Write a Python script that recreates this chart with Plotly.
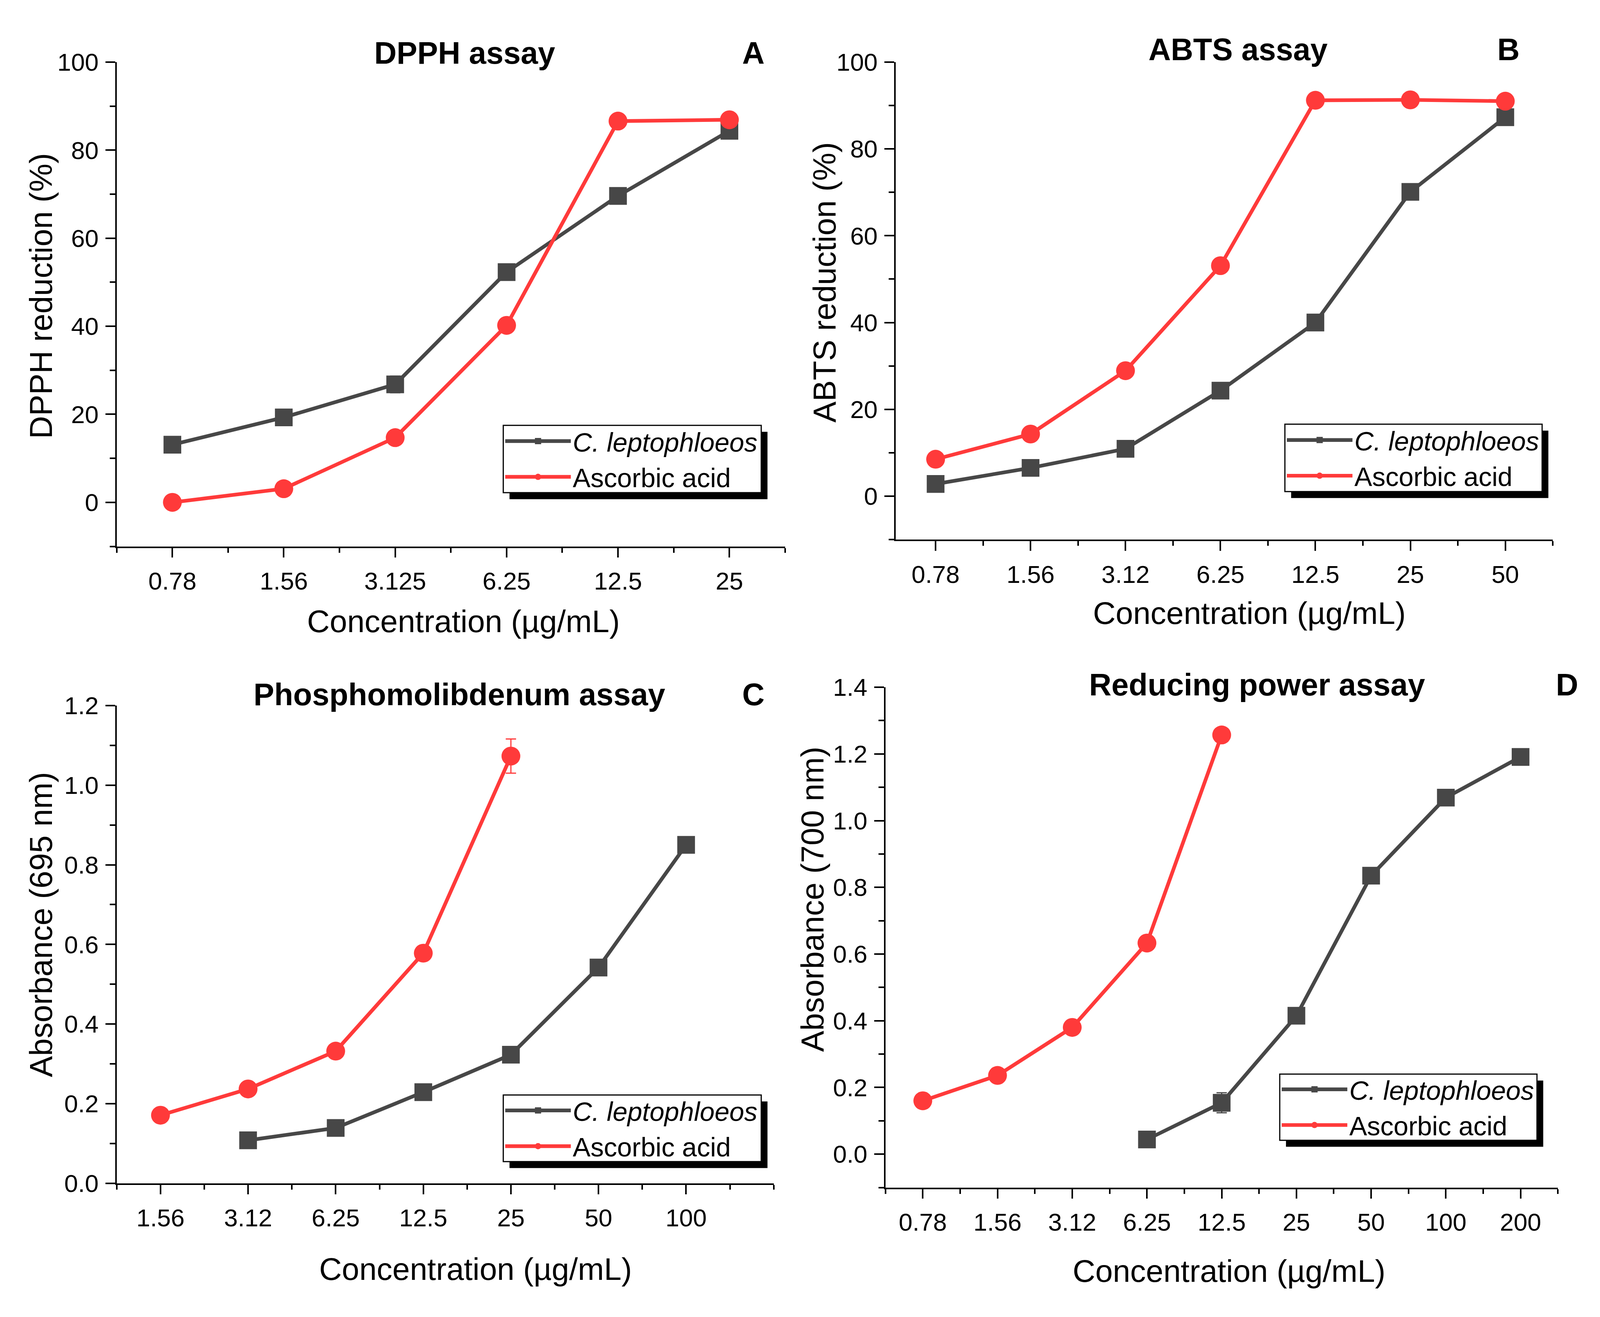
import plotly.graph_objects as go

# reference frame (design) size; the figure itself fills the browser window
W, H = 4337, 3371
K = 0.945  # css-pixel scale of the page relative to the design frame
FONT = "Liberation Sans, Arial, sans-serif"
GRAY = "#474747"
RED = "#ff3a3a"

# ---------------- data ----------------
dpph_conc = ["0.78", "1.56", "3.125", "6.25", "12.5", "25"]
dpph_cl = [13.1, 19.3, 26.8, 52.3, 69.6, 84.4]
dpph_cl_err = [0, 0, 1.9, 0, 0, 0]
dpph_aa = [0.0, 3.1, 14.7, 40.2, 86.6, 86.9]

abts_conc = ["0.78", "1.56", "3.12", "6.25", "12.5", "25", "50"]
abts_cl = [2.8, 6.5, 10.9, 24.3, 40.0, 70.1, 87.3]
abts_aa = [8.5, 14.3, 28.9, 53.1, 91.2, 91.3, 91.0]

phos_conc = ["1.56", "3.12", "6.25", "12.5", "25", "50", "100"]
phos_cl = [None, 0.108, 0.139, 0.229, 0.323, 0.542, 0.850]
phos_aa = [0.171, 0.237, 0.332, 0.578, 1.073, None, None]
phos_aa_err = [0, 0, 0, 0, 0.043, 0, 0]

redp_conc = ["0.78", "1.56", "3.12", "6.25", "12.5", "25", "50", "100", "200"]
redp_cl = [None, None, None, 0.044, 0.154, 0.415, 0.835, 1.069, 1.191]
redp_cl_err = [0, 0, 0, 0, 0.03, 0, 0, 0, 0]
redp_aa = [0.160, 0.236, 0.380, 0.633, 1.257, None, None, None, None]

titles = ["DPPH assay", "ABTS assay", "Phosphomolibdenum assay", "Reducing power assay"]
letters = ["A", "B", "C", "D"]
ytitles = ["DPPH reduction (%)", "ABTS reduction (%)", "Absorbance (695 nm)", "Absorbance (700 nm)"]
xtitle = "Concentration (µg/mL)"
series_names = ["<i>C. leptophloeos</i>", "Ascorbic acid"]


def px(x):
    return x / W


def py(y):
    return 1 - y / H


def s(v):
    return v * K


panels = [
    dict(box=(309, 2128, 119, 1391), xr=[-0.5, 5.5], yr=[-10, 100], ydt=20, ymin=10, fmt="d",
         conc=dpph_conc, cl=dpph_cl, cl_err=dpph_cl_err, aa=dpph_aa, aa_err=None,
         title=(1256, 95), letter=(2041, 95), ytit=(102, 733), xtit=(1253, 1588),
         leg=(1361, 1073, 2063, 1250)),
    dict(box=(2429, 4217, 119, 1373), xr=[-0.42, 6.5], yr=[-10, 100], ydt=20, ymin=10, fmt="d",
         conc=abts_conc, cl=abts_cl, cl_err=None, aa=abts_aa, aa_err=None,
         title=(3361, 86), letter=(4096, 86), ytit=(2235, 698), xtit=(3391, 1566),
         leg=(3488, 1070, 4188, 1247)),
    dict(box=(309, 2097, 1809, 3064), xr=[-0.5, 7.0], yr=[0, 1.2], ydt=0.2, ymin=0.1, fmt=".1f",
         conc=phos_conc, cl=phos_cl, cl_err=None, aa=phos_aa, aa_err=phos_aa_err,
         title=(1242, 1780), letter=(2041, 1780), ytit=(102, 2384), xtit=(1286, 3289),
         leg=(1361, 2832, 2063, 3007)),
    dict(box=(2401, 4231, 1761, 3075), xr=[-0.5, 8.5], yr=[-0.1, 1.4], ydt=0.2, ymin=0.1, fmt=".1f",
         conc=redp_conc, cl=redp_cl, cl_err=redp_cl_err, aa=redp_aa, aa_err=None,
         title=(3412, 1754), letter=(4256, 1754), ytit=(2202, 2318), xtit=(3336, 3294),
         leg=(3474, 2777, 4174, 2951)),
]

fig = go.Figure()
annotations = []
shapes = []
SHADOW = 17

for i, p in enumerate(panels):
    n = i + 1
    sfx = "" if n == 1 else str(n)
    xa, ya = "x" + sfx, "y" + sfx
    leg = "legend" + sfx
    xs = list(range(len(p["conc"])))

    err_cl = None
    if p["cl_err"] is not None:
        err_cl = dict(type="data", array=p["cl_err"], visible=True, color=GRAY, thickness=3, width=s(14))
    err_aa = None
    if p["aa_err"] is not None:
        err_aa = dict(type="data", array=p["aa_err"], visible=True, color=RED, thickness=3, width=s(14))

    fig.add_trace(go.Scatter(
        x=xs, y=p["cl"], xaxis=xa, yaxis=ya, name=series_names[0], legend=leg,
        mode="lines+markers", connectgaps=False,
        line=dict(color=GRAY, width=s(10)),
        marker=dict(symbol="square", size=s(48), color=GRAY),
        error_y=err_cl,
    ))
    fig.add_trace(go.Scatter(
        x=xs, y=p["aa"], xaxis=xa, yaxis=ya, name=series_names[1], legend=leg,
        mode="lines+markers", connectgaps=False,
        line=dict(color=RED, width=s(10)),
        marker=dict(symbol="circle", size=s(51), color=RED),
        error_y=err_aa,
    ))

    x0, x1, yt, yb = p["box"]
    axis_common = dict(
        showline=True, linecolor="black", linewidth=4, mirror=False,
        showgrid=False, zeroline=False, ticks="outside", ticklen=s(26), tickwidth=4,
        tickcolor="black", tickfont=dict(family=FONT, size=s(67), color="black"),
    )
    fig.layout["xaxis" + sfx] = dict(
        axis_common, domain=[px(x0), px(x1)], anchor=ya, range=p["xr"],
        tickmode="array", tickvals=xs, ticktext=p["conc"], ticklabelstandoff=6,
        minor=dict(dtick=0.5, tick0=0.5, ticklen=s(13), tickwidth=4, tickcolor="black", ticks="outside"),
    )
    lo, hi = p["yr"]
    nt = int(round(hi / p["ydt"]))
    yvals = [round(k * p["ydt"], 6) for k in range(0, nt + 1)]
    ytext = [(f"{v:.1f}" if p["fmt"] == ".1f" else f"{int(round(v))}") for v in yvals]
    fig.layout["yaxis" + sfx] = dict(
        axis_common, domain=[py(yb), py(yt)], anchor=xa, range=p["yr"],
        tickmode="array", tickvals=yvals, ticktext=ytext, ticklabelstandoff=5,
        minor=dict(dtick=p["ymin"], tick0=0, ticklen=s(15), tickwidth=4, tickcolor="black", ticks="outside"),
    )

    # legend frame with drop shadow, legend entries drawn by plotly on top
    lx0, ly0, lx1, ly1 = p["leg"]
    shapes.append(dict(type="rect", xref="paper", yref="paper", layer="above",
                       x0=px(lx0 + SHADOW), x1=px(lx1 + SHADOW), y0=py(ly1 + SHADOW), y1=py(ly0 + SHADOW),
                       fillcolor="black", line=dict(width=0)))
    shapes.append(dict(type="rect", xref="paper", yref="paper", layer="above",
                       x0=px(lx0), x1=px(lx1), y0=py(ly1), y1=py(ly0),
                       fillcolor="white", line=dict(color="black", width=3)))
    fig.layout[leg] = dict(
        x=px(lx0), y=py((ly0 + ly1) / 2), xanchor="left", yanchor="middle", xref="paper", yref="paper",
        bgcolor="rgba(0,0,0,0)", borderwidth=0,
        font=dict(family=FONT, size=s(72), color="black"), itemwidth=168,
        tracegroupgap=0, traceorder="normal", itemclick=False, itemdoubleclick=False,
    )

    tx, ty = p["title"]
    annotations.append(dict(text="<b>" + titles[i] + "</b>", x=px(tx), y=py(ty), xref="paper", yref="paper",
                            xanchor="center", yanchor="middle", showarrow=False,
                            font=dict(family=FONT, size=s(84), color="black")))
    lx2, ly2 = p["letter"]
    annotations.append(dict(text="<b>" + letters[i] + "</b>", x=px(lx2), y=py(ly2), xref="paper", yref="paper",
                            xanchor="center", yanchor="middle", showarrow=False,
                            font=dict(family=FONT, size=s(84), color="black")))
    yx, yy = p["ytit"]
    annotations.append(dict(text=ytitles[i], x=px(yx), y=py(yy), xref="paper", yref="paper",
                            xanchor="center", yanchor="middle", textangle=-90, showarrow=False,
                            font=dict(family=FONT, size=s(86), color="black")))
    xx, xy = p["xtit"]
    annotations.append(dict(text=xtitle, x=px(xx), y=py(xy), xref="paper", yref="paper",
                            xanchor="center", yanchor="middle", showarrow=False,
                            font=dict(family=FONT, size=s(85), color="black")))

fig.update_layout(
    autosize=True, margin=dict(l=0, r=0, t=0, b=0),
    paper_bgcolor="white", plot_bgcolor="white",
    annotations=annotations, shapes=shapes,
    font=dict(family=FONT, color="black"),
)

fig.write_html("out.html", default_width="calc(100vw - 16px)", default_height="calc(100vh - 16px)")
